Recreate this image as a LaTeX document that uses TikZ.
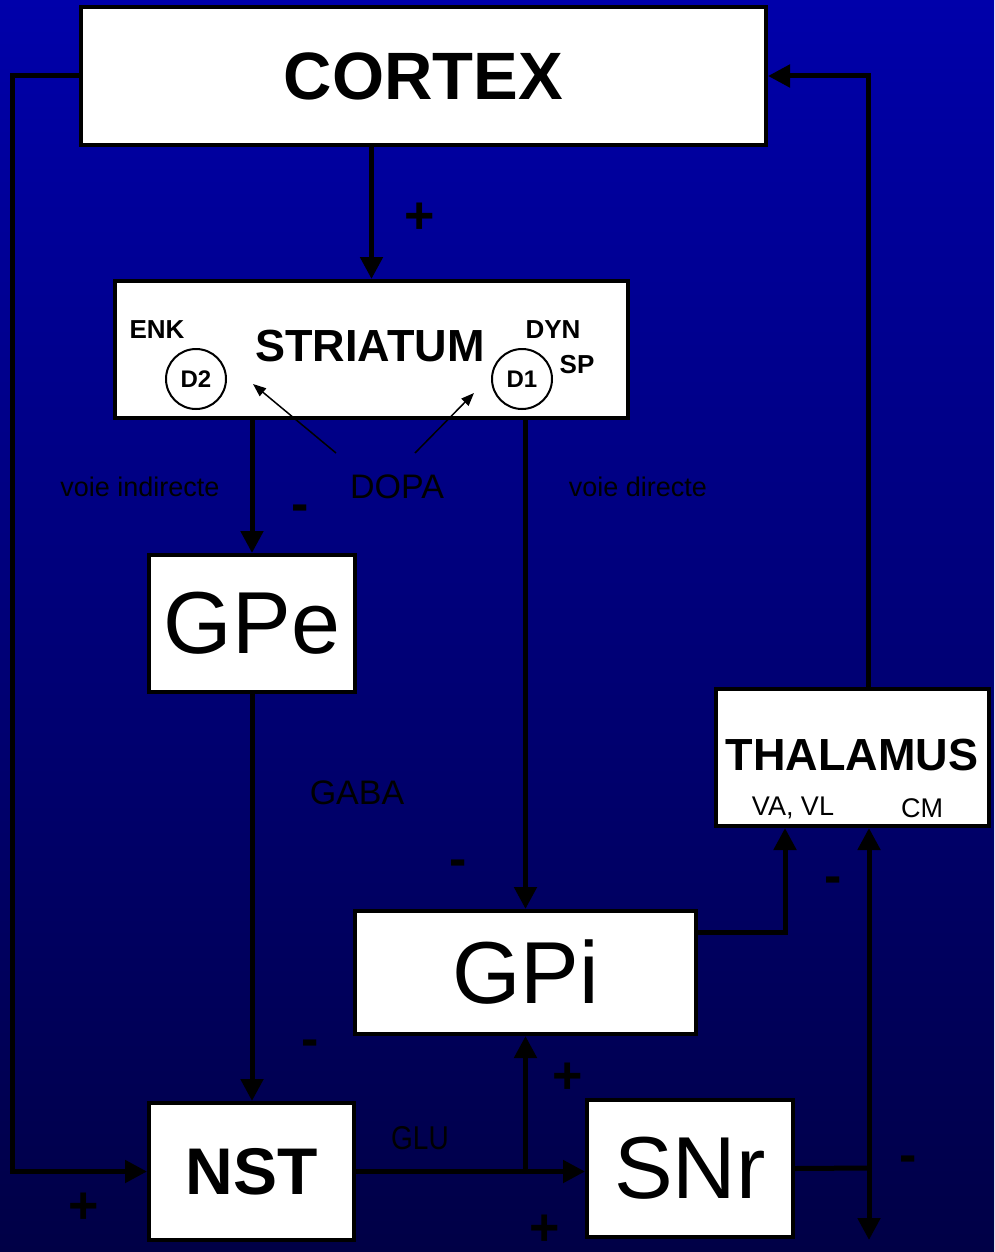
\documentclass[tikz,border=0pt]{standalone}
\usepackage{fontspec}
\setmainfont{Liberation Sans}
\usetikzlibrary{arrows.meta,calc}
\definecolor{bgtop}{RGB}{0,0,170}
\definecolor{bgbot}{RGB}{0,0,70}
\begin{document}
\begin{tikzpicture}[x=1pt,y=-1pt,
 box/.style={draw=black,line width=4pt,fill=white,inner sep=0pt,align=center},
 conn/.style={line width=5pt,draw=black},
 tip/.style={-{Triangle[length=22pt,width=22pt]}},
 thin tip/.style={line width=1.5pt,-{Triangle[length=13pt,width=10pt]}},
 sign/.style={font=\fontsize{52}{52}\selectfont\bfseries,inner sep=0pt,text=black},
 lbl/.style={inner sep=0pt,text=black},
 recep/.style={circle,draw=black,line width=2pt,fill=white,minimum size=60pt,inner sep=0pt,font=\fontsize{24}{24}\selectfont\bfseries},
]
\fill[top color=bgtop,bottom color=bgbot] (0,0) rectangle (994,1252);
\useasboundingbox (0,0) rectangle (994,1252);

% boxes
\node[box,minimum width=685pt,minimum height=138pt,font=\fontsize{67}{67}\selectfont\bfseries] (cortex) at (423.5,76) {CORTEX};
\node[box,minimum width=513pt,minimum height=137pt] (striatum) at (371.5,349.5) {};
\node[lbl,font=\fontsize{45}{45}\selectfont\bfseries] (strtext) at (370,346) {STRIATUM};
\node[box,minimum width=206pt,minimum height=137pt,font=\fontsize{88}{88}\selectfont] (gpe) at (252,623.5) {GPe};
\node[box,minimum width=341pt,minimum height=123pt,font=\fontsize{88}{88}\selectfont] (gpi) at (525.5,972.5) {GPi};
\node[box,minimum width=273pt,minimum height=137pt] (thal) at (852.5,757.5) {};
\node[lbl,font=\fontsize{45}{45}\selectfont\bfseries] (thaltext) at (852,755) {THALAMUS};
\node[box,minimum width=205pt,minimum height=137pt,font=\fontsize{66}{66}\selectfont\bfseries] (nst) at (251.5,1171.5) {NST};
\node[box,minimum width=206pt,minimum height=137pt,font=\fontsize{88}{88}\selectfont] (snr) at (690,1168.5) {SNr};

% striatum details
\node[lbl,font=\fontsize{26}{26}\selectfont\bfseries] (enk) at (157,330) {ENK};
\node[lbl,font=\fontsize{26}{26}\selectfont\bfseries] (dyn) at (553,330) {DYN};
\node[lbl,font=\fontsize{26}{26}\selectfont\bfseries] (sp) at (577,365) {SP};
\node[recep] (d2) at (196,379) {D2};
\node[recep] (d1) at (522,379) {D1};

% thalamus details
\node[lbl,font=\fontsize{27}{27}\selectfont] (vavl) at (793,808) {VA, VL};
\node[lbl,font=\fontsize{27}{27}\selectfont] (cm) at (922,808) {CM};

% free labels
\node[lbl,font=\fontsize{34}{34}\selectfont] (dopa) at (397,487) {DOPA};
\node[lbl,font=\fontsize{27}{27}\selectfont] (vind) at (140,487) {voie indirecte};
\node[lbl,font=\fontsize{27}{27}\selectfont] (vdir) at (638,487) {voie directe};
\node[lbl,font=\fontsize{34}{34}\selectfont] (gaba) at (357,793) {GABA};
\node[lbl,font=\fontsize{33}{33}\selectfont,xscale=0.85] (glu) at (420,1138) {GLU};

% DOPA arrows
\coordinate (da) at (336,453);
\coordinate (db) at (415,453);
\coordinate (t2) at (253,384);
\coordinate (t1) at (474,393);
\draw[thin tip] (da) -- (t2);
\draw[thin tip] (db) -- (t1);

% connectors
\coordinate (lt) at (12,76);
\coordinate (rt) at (868,76);
\coordinate (g1) at (785,932);
\coordinate (k) at (869,1168);
\coordinate (kb) at (869,1240);

\draw[conn,tip] (cortex.west) -- (lt) |- (nst.west);
\draw[conn,tip] (rt |- thal.north) -- (rt) -- (cortex.east);
\draw[conn,tip] (cortex.south -| striatum.north) -- (striatum.north);
\draw[conn,tip] (striatum.south -| gpe.north) -- (gpe.north);
\draw[conn,tip] (striatum.south -| gpi.north) -- (gpi.north);
\draw[conn,tip] (gpe.south) -- (gpe.south |- nst.north);
\draw[conn,tip] (g1 -| gpi.east) -- (g1) -- (g1 |- thal.south);
\draw[conn,tip] (nst.east) -- (nst.east -| snr.west);
\draw[conn,tip] (nst.east -| gpi.south) -- (gpi.south);
\draw[conn] (snr.east) -- (k);
\draw[conn,tip] (k) -- (k |- thal.south);
\draw[conn,tip] (k) -- (kb);

% signs
\node[sign] (p1) at (420,218) {+};
\node[sign] (p2) at (568,1078) {+};
\node[sign] (p3) at (84,1208) {+};
\node[sign] (p4) at (545,1230) {+};
\node[sign] (m1) at (300,513) {-};
\node[sign] (m2) at (458,868) {-};
\node[sign] (m3) at (310,1048) {-};
\node[sign] (m4) at (833,885) {-};
\node[sign] (m5) at (908,1164) {-};
\end{tikzpicture}
\end{document}
